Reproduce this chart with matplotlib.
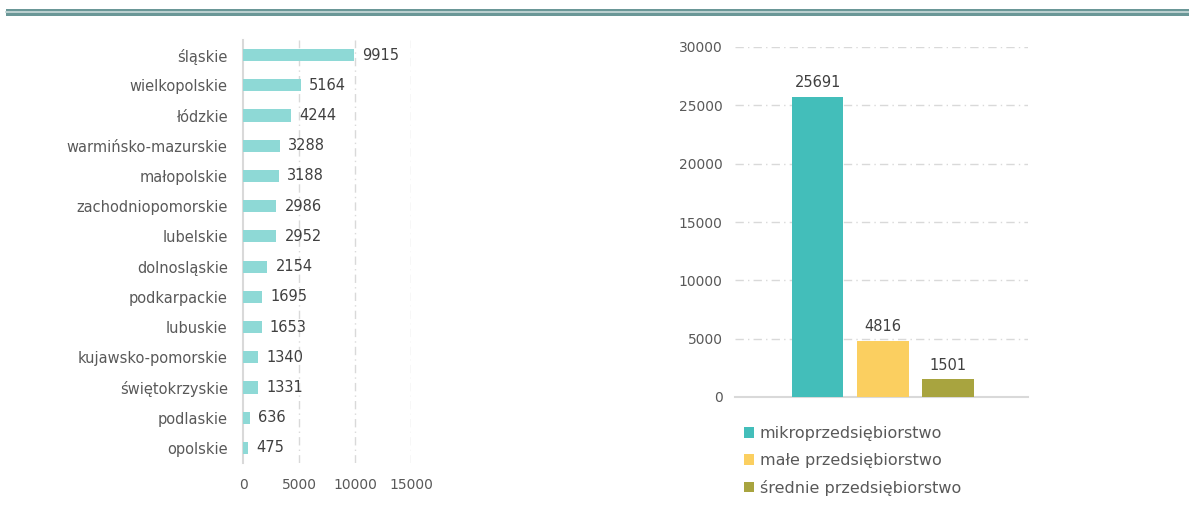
import matplotlib
matplotlib.use("Agg")
import matplotlib.pyplot as plt
from matplotlib.patches import Rectangle, Patch
from matplotlib.lines import Line2D

plt.rcParams['font.family'] = ['DejaVu Sans']

# Regions (voivodeships) and counts
regions = ["śląskie", "wielkopolskie", "łódzkie", "warmińsko-mazurskie", "małopolskie",
           "zachodniopomorskie", "lubelskie", "dolnosląskie", "podkarpackie", "lubuskie",
           "kujawsko-pomorskie", "świętokrzyskie", "podlaskie", "opolskie"]
region_counts = [9915, 5164, 4244, 3288, 3188, 2986, 2952, 2154, 1695, 1653, 1340, 1331, 636, 475]
region_ticks = [0, 5000, 10000, 15000]

# Enterprise size classes
sizes = ["mikroprzedsiębiorstwo", "małe przedsiębiorstwo", "średnie przedsiębiorstwo"]
size_counts = [25691, 4816, 1501]
size_colors = ["#43BEBA", "#FBCF60", "#A8A43F"]
size_ticks = [0, 5000, 10000, 15000, 20000, 25000, 30000]

TEXT = "#595959"
GRID = "#D9D9D9"
W, H = 1189, 508

fig = plt.figure(figsize=(W / 100, H / 100), dpi=100)

# header rule
fig.add_artist(Rectangle((6 / W, 1 - 15.5 / H), 1 - 6 / W, 6.5 / H, transform=fig.transFigure,
                         facecolor="#6A9797", edgecolor="none"))
fig.add_artist(Line2D([6 / W, 1], [1 - 12.3 / H, 1 - 12.3 / H], transform=fig.transFigure,
                      color="#C3D6D6", lw=1.3))

# ---- left: counts by region ----
axL = fig.add_axes([243 / W, 1 - 463 / H, (411 - 243) / W, (463 - 40) / H])
ypos = list(range(len(regions)))
axL.barh(ypos, region_counts, height=0.4, color="#8ED9D6", zorder=3)
axL.set_ylim(len(regions) - 0.5, -0.5)
axL.set_xlim(0, 15000)
axL.set_yticks(ypos)
axL.set_yticklabels(regions, fontsize=10.5, color=TEXT)
axL.set_xticks(region_ticks)
axL.set_xticklabels([str(t) for t in region_ticks], fontsize=10, color=TEXT)
axL.tick_params(axis="both", length=0)
axL.tick_params(axis="y", pad=11)
axL.tick_params(axis="x", pad=11)
for s in ["top", "right", "bottom"]:
    axL.spines[s].set_visible(False)
axL.spines["left"].set_color(GRID)
axL.spines["left"].set_linewidth(1.5)
for t in region_ticks[1:]:
    axL.axvline(t, color=GRID, lw=1, ls=(0, (6, 3, 1, 3)), zorder=1)
for y, v in zip(ypos, region_counts):
    axL.annotate(str(v), (v, y), xytext=(6, 0), textcoords="offset points",
                 va="center", ha="left", fontsize=10.5, color="#404040")

# ---- right: counts by enterprise size ----
axR = fig.add_axes([735 / W, 1 - 397 / H, (1028 - 735) / W, (397 - 47) / H])
xpos = list(range(len(sizes)))
axR.bar(xpos, size_counts, width=0.79, color=size_colors, zorder=3)
axR.set_xlim(-1.27, 3.23)
axR.set_ylim(0, 30000)
axR.set_yticks(size_ticks)
axR.set_yticklabels([str(t) for t in size_ticks], fontsize=10, color=TEXT)
axR.set_xticks([])
axR.tick_params(axis="y", length=0, pad=9)
for s in ["top", "right", "left"]:
    axR.spines[s].set_visible(False)
axR.spines["bottom"].set_color(GRID)
axR.spines["bottom"].set_linewidth(1.5)
for t in size_ticks[1:]:
    axR.axhline(t, color=GRID, lw=1, ls=(0, (6, 3, 1, 3)), zorder=1)
for x, v in zip(xpos, size_counts):
    axR.annotate(str(v), (x, v), xytext=(0, 5), textcoords="offset points",
                 ha="center", va="bottom", fontsize=10.5, color="#404040")

handles = [Patch(facecolor=c, edgecolor="none") for c in size_colors]
fig.legend(handles, sizes, loc="upper left", bbox_to_anchor=(736 / W, 1 - 418 / H),
           frameon=False, fontsize=11.5, labelcolor=TEXT, handlelength=0.65,
           handleheight=0.65, handletextpad=0.35, labelspacing=0.74, borderpad=0)

fig.savefig("out.png", dpi=100, facecolor="white")
